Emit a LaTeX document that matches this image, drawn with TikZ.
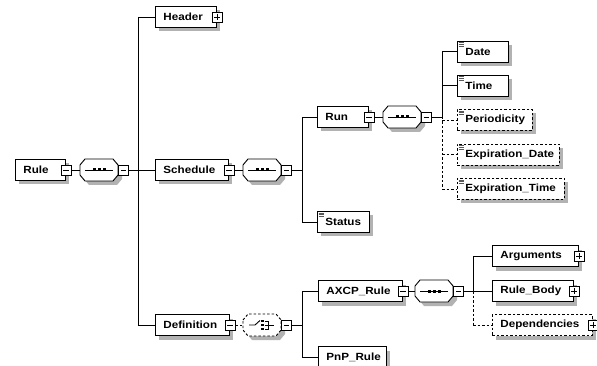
\documentclass[tikz,border=0pt]{standalone}
\usepackage{fontspec}
\setmainfont{Liberation Sans}[FakeStretch=1.12]
\usetikzlibrary{shadows}
\newcommand\xoct[2]{%
  \fill[black!30] ([shift={(4,4)}]#1.center) ++(-19,-5) -- ++(5,-6) -- ++(28,0) -- ++(5,6) -- ++(0,10) -- ++(-5,6) -- ++(-28,0) -- ++(-5,-6) -- cycle;
  \draw[line width=0.9pt, fill=white, #2] (#1.center) ++(-19,-5) -- ++(5,-6) -- ++(28,0) -- ++(5,6) -- ++(0,10) -- ++(-5,6) -- ++(-28,0) -- ++(-5,-6) -- cycle;}
\newcommand\xseq[1]{%
  \draw[line width=0.9pt] ([xshift=-14pt]#1.center) -- ([xshift=14pt]#1.center);
  \foreach \d in {-5,0,5}{\fill ([shift={(\d-1.5,-1.5)}]#1.center) rectangle +(3,3);}}
\newcommand\xsimple[1]{%
  \foreach \d in {2,3.7,5.4}{\draw[black!65, line width=0.8pt] ([shift={(1.5,\d)}]#1.north west) -- +(5,0);}}
\begin{document}
\begin{tikzpicture}[x=1pt,y=-1pt,
  elem/.style={draw, line width=0.9pt, fill=white, minimum height=21pt, anchor=west,
    inner xsep=8pt, inner ysep=0pt, align=left,
    font=\bfseries\fontsize{10.4}{12}\selectfont,
    drop shadow={shadow xshift=4pt, shadow yshift=-4pt, fill=black!30, opacity=1}},
  opt/.style={dash pattern=on 2.5pt off 2pt},
  conn/.style={line width=0.9pt},
  compbox/.style={rectangle, minimum width=38pt, minimum height=22pt, inner sep=0pt},
  toggle/.style={draw, line width=0.8pt, fill=white, minimum size=10pt, inner sep=0pt},
  tminus/.style={toggle, path picture={\draw[line width=0.8pt] ([xshift=2.2pt]path picture bounding box.west) -- ([xshift=-2.2pt]path picture bounding box.east);}},
  tplus/.style={toggle, path picture={\draw[line width=0.8pt] ([xshift=2.2pt]path picture bounding box.west) -- ([xshift=-2.2pt]path picture bounding box.east) ([yshift=-2.2pt]path picture bounding box.north) -- ([yshift=2.2pt]path picture bounding box.south);}}
]
\useasboundingbox (0,0) rectangle (597,366);
\fill[white] (0,0) rectangle (597,366);
\clip (0,0) rectangle (597,366);

% elements
\node[elem, text width=34pt] (rule) at (15,170) {Rule};
\node[elem, text width=45pt] (header) at (155,17) {Header};
\node[elem, text width=57pt] (schedule) at (155,170) {Schedule};
\node[elem, text width=58pt] (definition) at (155,325) {Definition};
\node[elem, text width=35pt] (run) at (317,117) {Run};
\node[elem, text width=36pt] (status) at (317,222) {Status};
\node[elem, text width=35pt] (date) at (457,51.5) {Date};
\node[elem, text width=35pt] (time) at (457,85.5) {Time};
\node[elem, opt, text width=59pt] (periodicity) at (457,120) {Periodicity};
\node[elem, opt, text width=86pt] (expdate) at (457,154.5) {Expiration\_Date};
\node[elem, opt, text width=91pt] (exptime) at (457,189) {Expiration\_Time};
\node[elem, text width=68pt] (axcp) at (318,291) {AXCP\_Rule};
\node[elem, text width=52pt] (pnp) at (318,357) {PnP\_Rule};
\node[elem, text width=70pt] (arguments) at (492,256) {Arguments};
\node[elem, text width=65pt] (rulebody) at (492,291) {Rule\_Body};
\node[elem, opt, text width=84pt] (dependencies) at (492,325) {Dependencies};

\xsimple{status}\xsimple{date}\xsimple{time}\xsimple{periodicity}\xsimple{expdate}\xsimple{exptime}

% compositors
\node[compbox] (c1) at (99,170) {};
\node[compbox] (c2) at (262,170) {};
\node[compbox] (c3) at (402,117) {};
\node[compbox] (c4) at (434,291) {};
\node[compbox] (c5) at (262,325) {};
\xoct{c1}{}\xoct{c2}{}\xoct{c3}{}\xoct{c4}{}\xoct{c5}{opt}
\xseq{c1}\xseq{c2}\xseq{c3}\xseq{c4}
% choice icon
\draw[line width=0.9pt] ([shift={(-13,0)}]c5.center) -- ([shift={(-7,0)}]c5.center) -- ([shift={(-2,-4.5)}]c5.center);
\foreach \d in {-4,0,4}{\fill ([shift={(-0.8,\d-1.4)}]c5.center) rectangle +(2.8,2.8);}
\draw[line width=0.9pt] ([shift={(2.5,-4)}]c5.center) -- ([shift={(6,-4)}]c5.center) -- ([shift={(6,4)}]c5.center) -- ([shift={(2.5,4)}]c5.center)
  ([shift={(2.5,0)}]c5.center) -- ([shift={(12,0)}]c5.center);

% toggles
\node[tminus] (tg-rule) at (rule.east) {};
\node[tplus] (tg-header) at (header.east) {};
\node[tminus] (tg-schedule) at (schedule.east) {};
\node[tminus] (tg-definition) at (definition.east) {};
\node[tminus] (tg-run) at (run.east) {};
\node[tminus] (tg-axcp) at (axcp.east) {};
\node[tplus] (tg-arguments) at (arguments.east) {};
\node[tplus] (tg-rulebody) at (rulebody.east) {};
\node[tplus] (tg-dependencies) at (dependencies.east) {};
\node[tminus, anchor=west] (tc1) at (c1.east) {};
\node[tminus, anchor=west] (tc2) at (c2.east) {};
\node[tminus, anchor=west] (tc3) at (c3.east) {};
\node[tminus, anchor=west] (tc4) at (c4.east) {};
\node[tminus, anchor=west] (tc5) at (c5.east) {};

% buses
\coordinate (b1) at (138,170);
\coordinate (b2) at (302,170);
\coordinate (b3) at (442,117);
\coordinate (b4) at (473,291);
\coordinate (b5) at (302,325);

% Rule
\draw[conn] (tg-rule.east) -- (c1.west);
\draw[conn] (tc1.east) -- (b1);
\draw[conn] (b1 |- header.west) -- (b1 |- definition.west);
\draw[conn] (b1 |- header.west) -- (header.west);
\draw[conn] (b1) -- (schedule.west);
\draw[conn] (b1 |- definition.west) -- (definition.west);
% Schedule
\draw[conn] (tg-schedule.east) -- (c2.west);
\draw[conn] (tc2.east) -- (b2);
\draw[conn] (b2 |- run.west) -- (b2 |- status.west);
\draw[conn] (b2 |- run.west) -- (run.west);
\draw[conn] (b2 |- status.west) -- (status.west);
% Run
\draw[conn] (tg-run.east) -- (c3.west);
\draw[conn] (tc3.east) -- (b3);
\draw[conn] (b3 |- date.west) -- (b3);
\draw[conn, opt] (b3) -- (b3 |- exptime.west);
\draw[conn] (b3 |- date.west) -- (date.west);
\draw[conn] (b3 |- time.west) -- (time.west);
\draw[conn, opt] (b3 |- periodicity.west) -- (periodicity.west);
\draw[conn, opt] (b3 |- expdate.west) -- (expdate.west);
\draw[conn, opt] (b3 |- exptime.west) -- (exptime.west);
% Definition
\draw[conn, opt] (tg-definition.east) -- (c5.west);
\draw[conn] (tc5.east) -- (b5);
\draw[conn] (b5 |- axcp.west) -- (b5 |- pnp.west);
\draw[conn] (b5 |- axcp.west) -- (axcp.west);
\draw[conn] (b5 |- pnp.west) -- (pnp.west);
% AXCP_Rule
\draw[conn] (tg-axcp.east) -- (c4.west);
\draw[conn] (tc4.east) -- (b4);
\draw[conn] (b4 |- arguments.west) -- (b4);
\draw[conn, opt] (b4) -- (b4 |- dependencies.west);
\draw[conn] (b4 |- arguments.west) -- (arguments.west);
\draw[conn] (b4) -- (rulebody.west);
\draw[conn, opt] (b4 |- dependencies.west) -- (dependencies.west);
\end{tikzpicture}
\end{document}
